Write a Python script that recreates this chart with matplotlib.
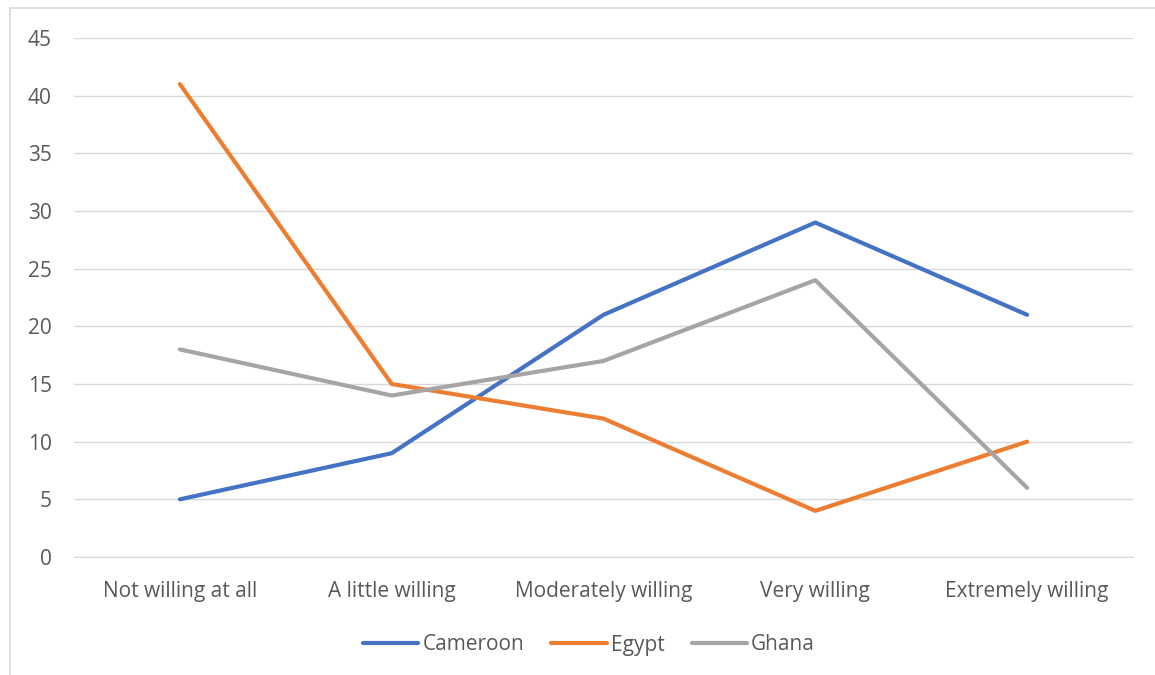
import matplotlib.pyplot as plt
from matplotlib.lines import Line2D

categories = ["Not willing at all", "A little willing", "Moderately willing",
              "Very willing", "Extremely willing"]
cameroon = [5, 9, 21, 29, 21]
egypt = [41, 15, 12, 4, 10]
ghana = [18, 14, 17, 24, 6]

series = [("Cameroon", cameroon, "#4472C4"),
          ("Egypt", egypt, "#ED7D31"),
          ("Ghana", ghana, "#A5A5A5")]

plt.rcParams['font.family'] = ['Open Sans', 'DejaVu Sans']

W, H = 1155, 675
fig = plt.figure(figsize=(W / 100, H / 100), dpi=100)
ax = fig.add_axes([74 / W, 118 / H, 1059 / W, 519 / H])

x = range(len(categories))
for name, vals, col in series:
    ax.plot(x, vals, color=col, lw=3, label=name, solid_capstyle='round',
            solid_joinstyle='round', zorder=3)

ax.set_xlim(-0.5, len(categories) - 0.5)
ax.set_ylim(0, 45)
ax.set_yticks(range(0, 46, 5))
ax.set_xticks(list(x))
ax.set_xticklabels(categories)
ax.yaxis.grid(True, color="#D9D9D9", lw=1)
ax.set_axisbelow(True)
for s in ax.spines.values():
    s.set_visible(False)
ax.spines['bottom'].set_visible(True)
ax.spines['bottom'].set_color("#D9D9D9")
ax.tick_params(axis='both', length=0, labelsize=15, colors="#595959")
ax.tick_params(axis='x', pad=17)
ax.tick_params(axis='y', pad=16)

leg = fig.legend(loc='center', bbox_to_anchor=(589 / W, 1 - 645 / H), ncol=3,
                 frameon=False, fontsize=15, handlelength=2.65,
                 handletextpad=0.2, columnspacing=1.3)
for t in leg.get_texts():
    t.set_color("#595959")

# outer chart border (left and top edges)
fig.add_artist(Line2D([10 / W, 10 / W], [0, 1 - 8 / H], color="#D9D9D9", lw=1.2))
fig.add_artist(Line2D([10 / W, 1], [1 - 8 / H, 1 - 8 / H], color="#D9D9D9", lw=1.2))

fig.savefig("out.png", dpi=100)
